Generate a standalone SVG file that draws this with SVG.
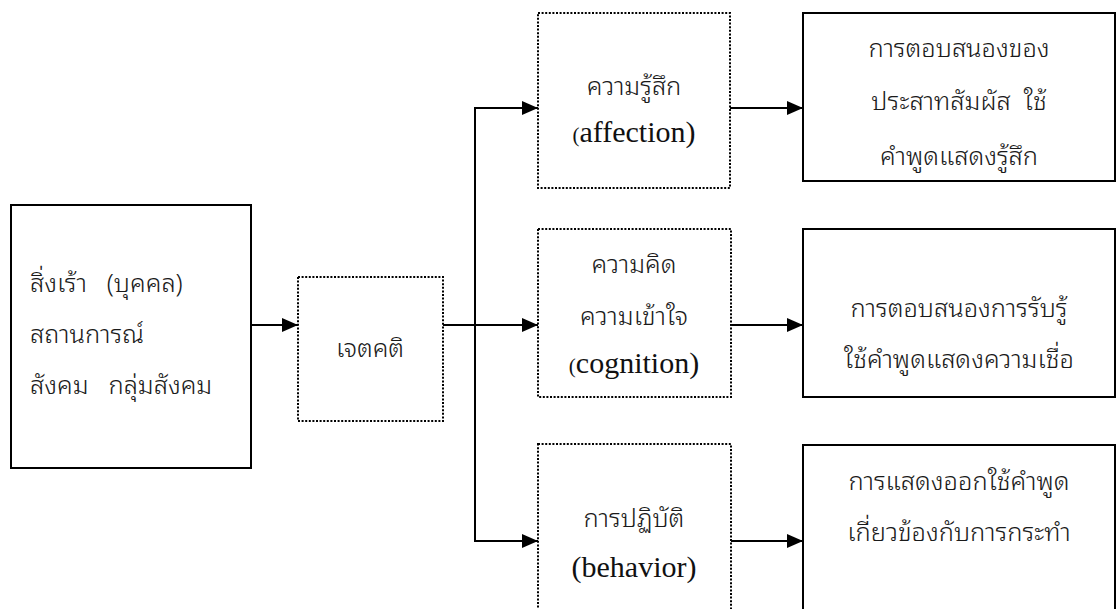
<svg xmlns="http://www.w3.org/2000/svg" width="1116" height="609" viewBox="0 0 1116 609">
<defs>
<style>
.solid{fill:#fff;stroke:#000;stroke-width:2}
.dot{fill:#fff;stroke:#000;stroke-width:2;stroke-dasharray:2 1.6}
.th{font-family:"Noto Sans Thai Looped","Noto Sans Thai","Tahoma","DejaVu Sans","Noto Sans",sans-serif;font-size:25.5px;font-weight:300;fill:#1a1a1a;white-space:pre}
.en{font-family:"Liberation Serif","Times New Roman",serif;font-size:30px;fill:#111}
.sp{font-size:21px}
.c{text-anchor:middle}
.conn{fill:none;stroke:#000;stroke-width:2}
</style>
<marker id="ah" markerUnits="userSpaceOnUse" markerWidth="16" markerHeight="14" refX="16" refY="7" orient="auto">
<path d="M0,0 L16,7 L0,14 z" fill="#000"/>
</marker>
</defs>
<rect width="1116" height="609" fill="#fff"/>
<g id="connectors">
<line class="conn" x1="251" y1="325" x2="298" y2="325" marker-end="url(#ah)"/>
<line class="conn" x1="443" y1="325" x2="538" y2="325" marker-end="url(#ah)"/>
<polyline class="conn" points="538,108 475,108 475,541 538,541"/>
<line class="conn" x1="475" y1="108" x2="538" y2="108" marker-end="url(#ah)"/>
<line class="conn" x1="475" y1="541" x2="538" y2="541" marker-end="url(#ah)"/>
<line class="conn" x1="730" y1="108" x2="803" y2="108" marker-end="url(#ah)"/>
<line class="conn" x1="731" y1="325" x2="803" y2="325" marker-end="url(#ah)"/>
<line class="conn" x1="731" y1="541" x2="803" y2="541" marker-end="url(#ah)"/>
</g>
<g id="stimulus">
<rect class="solid" x="11" y="205" width="240" height="263"/>
<text class="th" x="30" y="292" xml:space="preserve">สิ่งเร้า   (บุคคล)</text>
<text class="th" x="30" y="343">สถานการณ์</text>
<text class="th" x="30" y="394" xml:space="preserve">สังคม   กลุ่มสังคม</text>
</g>
<g id="attitude">
<rect class="dot" x="298" y="277" width="145" height="144"/>
<text class="th c" x="370" y="357">เจตคติ</text>
</g>
<g id="affection">
<rect class="dot" x="538" y="13" width="192" height="175"/>
<text class="th c" x="634" y="95">ความรู้สึก</text>
<text class="en c" x="634" y="142"><tspan class="sp">(</tspan>affection)</text>
</g>
<g id="cognition">
<rect class="dot" x="538" y="229" width="193" height="168"/>
<text class="th c" x="634" y="273">ความคิด</text>
<text class="th c" x="634" y="325">ความเข้าใจ</text>
<text class="en c" x="634" y="373"><tspan class="sp">(</tspan>cognition)</text>
</g>
<g id="behavior">
<rect class="dot" x="538" y="444" width="193" height="175"/>
<text class="th c" x="634" y="527">การปฏิบัติ</text>
<text class="en c" x="634" y="577">(behavior)</text>
</g>
<g id="affection-response">
<rect class="solid" x="803" y="13" width="312" height="168"/>
<text class="th c" x="959" y="57">การตอบสนองของ</text>
<text class="th c" x="959" y="110" xml:space="preserve">ประสาทสัมผัส  ใช้</text>
<text class="th c" x="959" y="165">คำพูดแสดงรู้สึก</text>
</g>
<g id="cognition-response">
<rect class="solid" x="803" y="229" width="312" height="168"/>
<text class="th c" x="959" y="317">การตอบสนองการรับรู้</text>
<text class="th c" x="959" y="368">ใช้คำพูดแสดงความเชื่อ</text>
</g>
<g id="behavior-response">
<rect class="solid" x="803" y="445" width="312" height="170"/>
<text class="th c" x="959" y="490">การแสดงออกใช้คำพูด</text>
<text class="th c" x="959" y="541">เกี่ยวข้องกับการกระทำ</text>
</g>
</svg>
